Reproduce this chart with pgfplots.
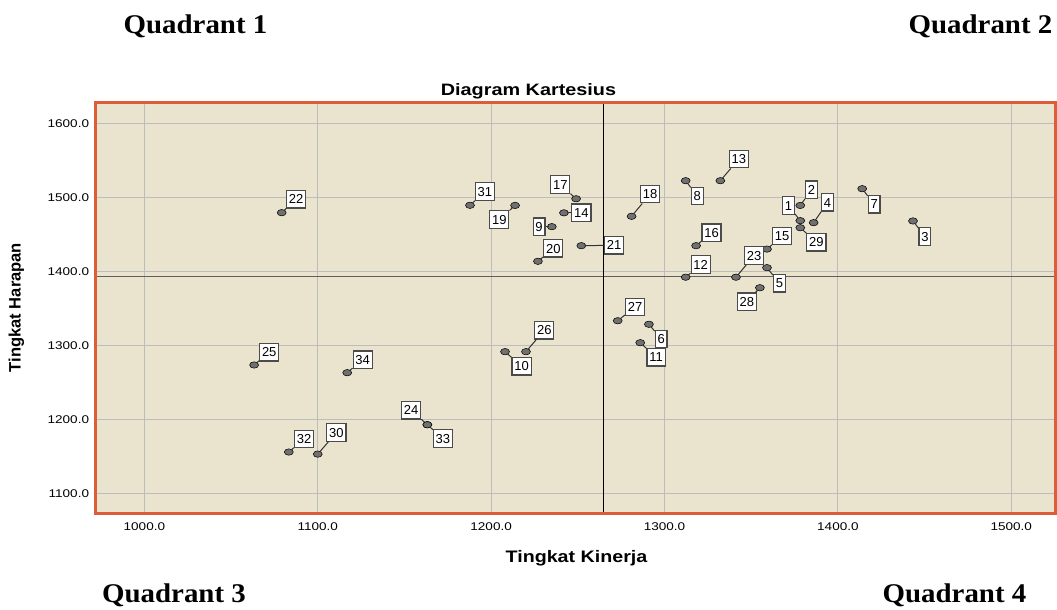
\documentclass[border=0pt]{standalone}
\usepackage{fontspec}
\setmainfont{Liberation Sans}
\newfontfamily\qserif{Liberation Serif}
\usepackage{graphicx}
\usepackage{pgfplots}
\usepackage{pgfplotstable}
\pgfplotsset{compat=1.18}

\definecolor{bgbeige}{RGB}{234,228,207}
\definecolor{gridgray}{RGB}{188,188,188}
\definecolor{frameorange}{RGB}{222,92,56}
\definecolor{ptgray}{RGB}{112,112,112}
\definecolor{boxgray}{RGB}{75,75,75}
\definecolor{linegray}{RGB}{50,50,50}
\definecolor{meangray}{RGB}{95,95,95}

\pgfplotstableread{
x y lbl ang d
1378.3 1468.4 1 133.8 3.45
1378.3 1489.0 2 54.9 3.4
1443.3 1468.0 3 -49.4 3.8
1386.0 1465.7 4 56.1 7.5
1359.1 1404.9 5 -47.7 4.0
1291.0 1328.4 6 -43.0 3.4
1414.0 1511.6 7 -49.0 3.8
1312.2 1522.4 8 -50.4 3.5
1235.0 1460.3 9 180 2.25
1208.0 1291.4 10 -39.6 3.75
1286.0 1303.5 11 -40.8 3.6
1312.2 1392.0 12 34.8 1.95
1332.2 1522.4 13 56.8 8.7
1242.0 1479.0 14 0 3.0
1359.1 1430.0 15 36.7 2.25
1318.2 1434.6 16 35.0 2.4
1249.0 1498.0 17 139.2 3.15
1281.0 1474.3 18 57.4 9.0
1213.8 1489.0 19 221.4 3.1
1227.0 1413.5 20 35.4 2.3
1252.0 1434.6 21 1 14.55
1079.2 1479.2 22 44.3 2.0
1341.2 1392.0 23 57.0 8.55
1163.2 1192.7 24 139.6 3.5
1063.3 1273.4 25 35.0 2.1
1220.1 1291.4 26 56.3 8.55
1273.0 1333.2 27 32.0 3.9
1355.0 1377.8 28 238.0 1.65
1378.3 1458.9 29 -41.3 3.5
1100.0 1153.0 30 55.5 8.7
1187.8 1489.2 31 43.1 2.5
1083.3 1155.8 32 35.3 2.25
1163.2 1192.7 33 -40.2 2.9
1117.0 1263.0 34 35.9 2.4
}\pointdata

\tikzset{lbox/.style={shape=rectangle, draw=boxgray, line width=0.9pt, fill=white,
  font=\fontsize{9.75}{10}\selectfont, inner xsep=1.73pt, inner ysep=0pt,
  minimum height=13.1pt, minimum width=0pt, text height=7pt, text depth=0pt}}

\begin{document}
\begin{tikzpicture}
\begin{scope}[x=0.75pt,y=-0.75pt]
\path[use as bounding box] (0,0) rectangle (1057,610);
\node[anchor=base,font=\qserif\bfseries\fontsize{20.25}{24}\selectfont] at (195.5,33.5) {\scalebox{1.07}[1]{Quadrant 1}};
\node[anchor=base,font=\qserif\bfseries\fontsize{20.25}{24}\selectfont] at (980.5,33.5) {\scalebox{1.07}[1]{Quadrant 2}};
\node[anchor=base,font=\qserif\bfseries\fontsize{20.25}{24}\selectfont] at (174,602) {\scalebox{1.07}[1]{Quadrant 3}};
\node[anchor=base,font=\qserif\bfseries\fontsize{20.25}{24}\selectfont] at (954.5,602) {\scalebox{1.07}[1]{Quadrant 4}};
\node[anchor=base,font=\bfseries\fontsize{12.4}{14}\selectfont] at (528.5,95.7) {\scalebox{1.2}[1]{Diagram Kartesius}};
\node[anchor=base,font=\bfseries\fontsize{12.5}{14}\selectfont] at (576.5,562.7) {\scalebox{1.18}[1]{Tingkat Kinerja}};
\node[anchor=base,rotate=90,font=\bfseries\fontsize{12.4}{14}\selectfont] at (20.7,307.5) {Tingkat Harapan};
\end{scope}
\begin{axis}[
  at={(72pt,-384.975pt)}, anchor=south west,
  scale only axis, width=719.625pt, height=307.95pt,
  xmin=972.1, xmax=1525.5, ymin=1073, ymax=1627.8,
  xtick={1000,1100,...,1500}, ytick={1100,1200,...,1600},
  grid=major, major grid style={draw=gridgray, line width=0.75pt},
  major tick length=0pt,
  axis background/.style={fill=bgbeige},
  axis line style={draw=none},
  tick label style={font=\fontsize{8.4}{10}\selectfont},
  xticklabel={\scalebox{1.21}[1]{\pgfmathprintnumber[fixed,fixed zerofill,precision=1,1000 sep={},assume math mode=true]{\tick}}},
  yticklabel={\scalebox{1.21}[1]{\pgfmathprintnumber[fixed,fixed zerofill,precision=1,1000 sep={},assume math mode=true]{\tick}}},
  xticklabel style={anchor=north, inner sep=0pt, yshift=-7pt},
  yticklabel style={anchor=east, inner sep=0pt, xshift=-5pt},
  after end axis/.code={\draw[frameorange, line width=2.25pt] (rel axis cs:0,0) rectangle (rel axis cs:1,1);},
]
\addplot[draw=meangray, line width=1.1pt] coordinates {(972.1,1392.7) (1525.5,1392.7)};
\addplot[draw=black, line width=0.75pt] coordinates {(1264.7,1073) (1264.7,1627.8)};
\addplot[only marks, mark=*, mark size=2.4pt,
  mark options={fill=ptgray, draw=none, xscale=1.4},
  point meta=explicit symbolic,
  visualization depends on={\thisrow{ang}\as\pang},
  visualization depends on={\thisrow{d}\as\pdval},
  nodes near coords={\relax},
  every node near coord/.append style={shape=circle, inner sep=0pt, minimum size=4.5pt, anchor=center,
    pin={[pin distance=\pdval pt, lbox, pin edge={draw=linegray, line width=0.75pt}]\pang:\pgfplotspointmeta}},
] table[x=x,y=y,meta=lbl] {\pointdata};
\end{axis}
\end{tikzpicture}
\end{document}
